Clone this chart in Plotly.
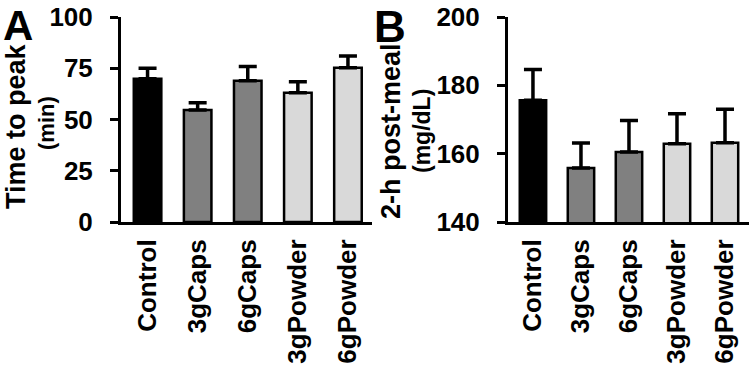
import plotly.graph_objects as go
from plotly.subplots import make_subplots

# groups and values
groups = ["Control", "3gCaps", "6gCaps", "3gPowder", "6gPowder"]
bar_colors = ["#000000", "#808080", "#808080", "#d9d9d9", "#d9d9d9"]

# panel A: time to peak (min)
peak_mean = [69.9, 54.6, 68.9, 63.1, 75.3]
peak_err = [5.1, 3.6, 6.9, 5.3, 5.7]

# panel B: 2-h post-meal glucose (mg/dL)
post_mean = [175.6, 155.8, 160.5, 162.9, 163.2]
post_err = [9.0, 7.3, 9.2, 8.8, 9.8]

W, H = 750, 366
TOP, BOTTOM = 17, 144
FONT = "Liberation Sans, Arial, Helvetica, sans-serif"

fig = make_subplots(rows=1, cols=2)


def add_bars(mean, err, col):
    fig.add_trace(go.Bar(
        x=groups, y=mean, width=0.55,
        marker=dict(color=bar_colors, line=dict(color="black", width=2.5)),
        error_y=dict(type="data", array=err, arrayminus=[0] * len(err),
                     symmetric=False, color="black", thickness=3.5, width=9),
        showlegend=False,
    ), row=1, col=col)


add_bars(peak_mean, peak_err, 1)
add_bars(post_mean, post_err, 2)

axis_common = dict(showline=True, linecolor="black", linewidth=3,
                   showgrid=False, zeroline=False, automargin=False,
                   tickfont=dict(family=FONT, size=26, color="black", weight="bold"))

fig.update_xaxes(**axis_common, ticks="", tickangle=-90, ticklabelstandoff=4)
fig.update_yaxes(**axis_common, ticks="outside", ticklen=8, tickwidth=3,
                 tickcolor="black", ticklabelstandoff=12)

fig.update_xaxes(domain=[121 / W, 372 / W], range=[-0.53, 4.48], row=1, col=1)
fig.update_xaxes(domain=[508 / W, 749 / W], range=[-0.52, 4.5], row=1, col=2)
fig.update_yaxes(range=[0, 100], tickvals=[0, 25, 50, 75, 100], row=1, col=1)
fig.update_yaxes(range=[140, 200], tickvals=[140, 160, 180, 200], row=1, col=2)

plot_h = H - TOP - BOTTOM


def px_x(v):
    return v / W


def px_y(v):
    return (H - BOTTOM - v) / plot_h


# panel letters, anchored at their top so the text box stays inside the page
for text, x, size in [("A", 18, 42), ("B", 390, 44)]:
    fig.add_annotation(text=text, x=px_x(x), y=px_y(0), xref="paper", yref="paper",
                       xanchor="center", yanchor="top", showarrow=False,
                       font=dict(family=FONT, size=size, color="black", weight="bold"))

titles = [
    ("Time to peak", 16, 126, 27),
    ("(min)", 46, 123, 22),
    ("2-h post-meal", 391, 131, 27),
    ("(mg/dL)", 422, 131, 23),
]
for text, x, y, size in titles:
    fig.add_annotation(text=text, x=px_x(x), y=px_y(y), xref="paper", yref="paper",
                       xanchor="center", yanchor="middle", textangle=-90,
                       showarrow=False,
                       font=dict(family=FONT, size=size, color="black", weight="bold"))

fig.update_layout(
    width=W, height=H,
    margin=dict(l=0, r=0, t=TOP, b=BOTTOM),
    paper_bgcolor="white", plot_bgcolor="white",
    bargap=0.45,
)

# page body has a default 8px margin; drop it so the figure sits at 0,0
fig.write_html("out.html", config={"displayModeBar": False},
               post_script="document.body.style.margin='0';")
